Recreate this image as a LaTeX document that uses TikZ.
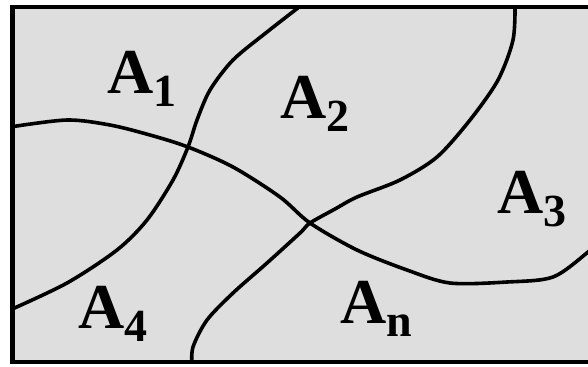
\documentclass[tikz,border=0pt]{standalone}
\usepackage{fontspec}
\setmainfont{Liberation Serif}
\definecolor{panelgray}{HTML}{DEDEDE}
\tikzset{
    every node/.style={font=\fontsize{32}{32}\selectfont\bfseries},
    region/.style={anchor=base west,inner sep=0pt},
    border/.style={draw=black,line width=2.2pt},
    bound/.style={draw=black,line width=1.8pt,line cap=round}
}
\newcommand{\idx}[1]{\raisebox{-6.5pt}{\fontsize{23}{23}\selectfont #1}}

\begin{document}
\begin{tikzpicture}[x=0.5pt,y=-0.5pt]
\useasboundingbox (0,0) rectangle (588,366);
\fill[panelgray] (12.5,7) rectangle (600,362);
\begin{scope}
\clip (12.5,7) rectangle (600,362);
% A1 / A2 and A1 / A4
\draw[bound] plot[smooth] coordinates {(303,4) (267,32) (233,60) (210,90) (197,120) (188,147) (173,180) (147,220) (117,250) (67,283) (10,310)};
% A1 / A4, then An / A3
\draw[bound] plot[smooth] coordinates {(10,127) (67,120) (110,125) (150,135) (188,147) (233,167) (280,197) (310,223) (357,250) (407,270) (450,283) (507,282) (553,277) (588,252) (600,240)};
% A2 / A3, then A4 / An
\draw[bound] plot[smooth] coordinates {(515,4) (513,40) (498,80) (470,120) (437,157) (400,180) (357,197) (335,209) (310,223) (300,233) (267,263) (233,293) (207,320) (193,347) (192,366)};
\end{scope}
\draw[border] (600,7) -- (12.5,7) -- (12.5,362) -- (600,362);
\node[region] (a1) at (107,93) {A\idx{1}};
\node[region] (a2) at (280,118) {A\idx{2}};
\node[region] (a3) at (497,213) {A\idx{3}};
\node[region] (a4) at (78,328) {A\idx{4}};
\node[region] (an) at (340,323) {A\idx{n}};
\end{tikzpicture}
\end{document}
